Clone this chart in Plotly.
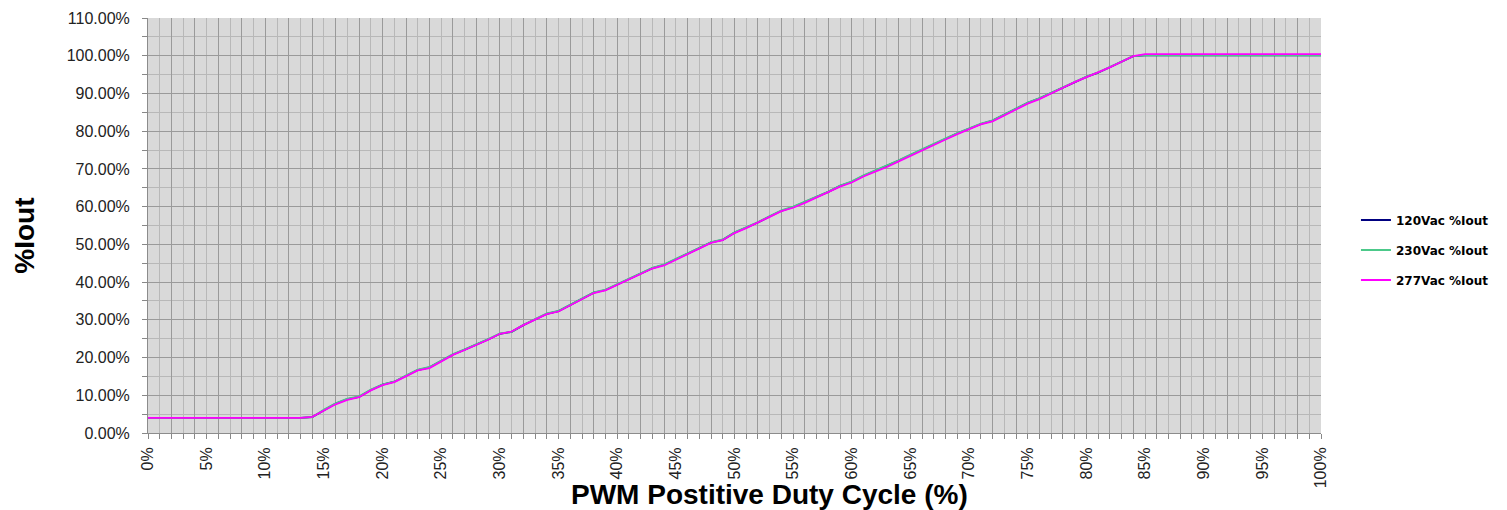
import plotly.graph_objects as go

duty = list(range(0, 101))

iout_277 = [4.0, 4.0, 4.0, 4.0, 4.0, 4.0, 4.0, 4.0, 4.0, 4.0,
            4.0, 4.0, 4.0, 4.0, 4.3, 6.0, 7.6, 8.8, 9.5, 11.3,
            12.7, 13.5, 15.1, 16.6, 17.2, 19.0, 20.7, 22.0, 23.3, 24.7,
            26.3, 26.9, 28.6, 30.1, 31.5, 32.2, 33.9, 35.6, 37.1, 37.8,
            39.2, 40.8, 42.1, 43.6, 44.4, 45.9, 47.4, 48.9, 50.4, 51.1,
            53.0, 54.3, 55.7, 57.3, 58.8, 59.7, 61.0, 62.4, 63.7, 65.3,
            66.4, 68.0, 69.3, 70.5, 72.0, 73.5, 75.0, 76.3, 77.8, 79.2,
            80.4, 81.8, 82.6, 84.1, 85.7, 87.3, 88.5, 89.9, 91.5, 93.0,
            94.3, 95.4, 96.9, 98.4, 99.9, 100.4, 100.4, 100.4, 100.4, 100.4,
            100.4, 100.4, 100.4, 100.4, 100.4, 100.4, 100.4, 100.4, 100.4, 100.4,
            100.4]

iout_230 = [4.0, 4.0, 4.0, 3.9, 4.0, 4.0, 4.0, 4.0, 4.0, 4.0,
            4.0, 4.0, 4.0, 4.0, 4.2, 6.2, 7.9, 9.1, 9.7, 11.5,
            12.9, 13.6, 15.3, 16.8, 17.5, 19.3, 20.9, 22.2, 23.5, 24.9,
            26.4, 26.8, 28.7, 30.2, 31.7, 32.4, 34.1, 35.8, 37.3, 38.0,
            39.4, 41.0, 42.3, 43.8, 44.7, 46.1, 47.6, 49.1, 50.6, 51.3,
            53.2, 54.5, 55.9, 57.5, 59.0, 60.0, 61.3, 62.7, 64.0, 65.6,
            66.7, 68.3, 69.6, 70.8, 72.3, 73.8, 75.3, 76.6, 78.1, 79.5,
            80.7, 82.0, 82.9, 84.4, 86.0, 87.6, 88.8, 90.2, 91.7, 93.2,
            94.5, 95.6, 97.1, 98.6, 99.9, 100.1, 100.1, 100.1, 100.1, 100.1,
            100.1, 100.1, 100.1, 100.1, 100.1, 100.1, 100.1, 100.1, 100.1, 100.1,
            100.1]

iout_120 = [4.0, 4.0, 4.0, 3.8, 4.0, 4.0, 4.0, 4.0, 4.0, 4.0,
            4.0, 4.0, 4.0, 4.0, 4.2, 6.1, 7.8, 9.0, 9.6, 11.4,
            12.8, 13.6, 15.2, 16.7, 17.4, 19.2, 20.8, 22.1, 23.4, 24.8,
            26.3, 26.8, 28.6, 30.1, 31.6, 32.3, 34.0, 35.7, 37.2, 37.9,
            39.3, 40.9, 42.2, 43.7, 44.6, 46.0, 47.5, 49.0, 50.5, 51.2,
            53.1, 54.4, 55.8, 57.4, 58.9, 59.9, 61.2, 62.6, 63.9, 65.5,
            66.6, 68.2, 69.5, 70.7, 72.2, 73.7, 75.2, 76.5, 78.0, 79.4,
            80.6, 81.9, 82.8, 84.3, 85.9, 87.5, 88.7, 90.1, 91.6, 93.1,
            94.4, 95.5, 97.0, 98.5, 99.9, 100.1, 100.1, 100.1, 100.1, 100.1,
            100.1, 100.1, 100.1, 100.1, 100.1, 100.1, 100.1, 100.1, 100.1, 100.1,
            100.1]

series_names = ["120Vac %Iout", "230Vac %Iout", "277Vac %Iout"]
series_colors = ["#000080", "#4CC98A", "#FF00FF"]
series_values = [iout_120, iout_230, iout_277]

x_tick_vals = list(range(0, 101, 5))
x_tick_text = [f"{v}%" for v in x_tick_vals]
y_tick_vals = list(range(0, 111, 10))
y_tick_text = [f"{v:.2f}%" for v in y_tick_vals]

FONT = "Liberation Sans, Arial, sans-serif"
LEGEND_FONT = "DejaVu Sans, Verdana, sans-serif"

fig = go.Figure()
for name, color, vals in zip(series_names, series_colors, series_values):
    fig.add_trace(go.Scatter(
        x=duty, y=vals, mode="lines", name=name,
        line=dict(color=color, width=1.8),
        legendgroup=name,
        xaxis="x", yaxis="y",
    ))

# helper trace to carry the 2% grid axis
fig.add_trace(go.Scatter(x=[None], y=[None], xaxis="x2", yaxis="y",
                         showlegend=False, hoverinfo="skip"))

fig.update_layout(
    width=1507, height=510,
    margin=dict(l=140, r=194, t=10, b=85),
    paper_bgcolor="white",
    plot_bgcolor="#D9D9D9",
    font=dict(family=FONT, color="#222222"),
    showlegend=True,
    legend=dict(
        x=1.0298, y=0.441, xanchor="left", yanchor="middle",
        font=dict(family=LEGEND_FONT, size=12, color="#000000", weight="bold"),
        tracegroupgap=11,
        bgcolor="rgba(0,0,0,0)",
    ),
    xaxis=dict(
        range=[0, 100], automargin=False,
        tickmode="array", tickvals=x_tick_vals, ticktext=x_tick_text,
        tickangle=-90,
        tickfont=dict(family=FONT, size=16, color="#222222"),
        ticks="outside", ticklen=5, tickcolor="#888888",
        showgrid=False, zeroline=False,
        showline=True, linecolor="#8c8c8c", linewidth=1,
        minor=dict(dtick=1, tick0=0, ticks="outside", ticklen=5,
                   tickcolor="#888888", showgrid=True,
                   gridcolor="#B8B8B8", gridwidth=1),
        ticklabelstandoff=2,
        layer="below traces",
    ),
    xaxis2=dict(
        range=[0, 100], overlaying="x", side="bottom", automargin=False,
        dtick=2, tick0=0, showgrid=True, gridcolor="#9A9A9A", gridwidth=1,
        showticklabels=False, ticks="", zeroline=False, showline=False,
        layer="below traces",
    ),
    yaxis=dict(
        range=[0, 110], automargin=False,
        tickmode="array", tickvals=y_tick_vals, ticktext=y_tick_text,
        tickfont=dict(family=FONT, size=16, color="#222222"),
        ticks="outside", ticklen=5, tickcolor="#888888",
        showgrid=True, gridcolor="#9A9A9A", gridwidth=1,
        zeroline=False,
        showline=True, linecolor="#8c8c8c", linewidth=1,
        minor=dict(dtick=5, tick0=0, ticks="outside", ticklen=5,
                   tickcolor="#888888", showgrid=True,
                   gridcolor="#B8B8B8", gridwidth=1),
        ticklabelstandoff=9,
        layer="below traces",
    ),
    annotations=[
        dict(text="<b>%Iout</b>", xref="paper", yref="paper",
             x=-0.105, y=0.475, xanchor="center", yanchor="middle",
             textangle=-90, showarrow=False,
             font=dict(family=FONT, size=28, color="#000000")),
        dict(text="<b>PWM Postitive Duty Cycle (%)</b>", xref="paper", yref="paper",
             x=0.53, y=-0.149, xanchor="center", yanchor="middle",
             showarrow=False,
             font=dict(family=FONT, size=28, color="#000000")),
    ],
)

fig.write_html("out.html")
